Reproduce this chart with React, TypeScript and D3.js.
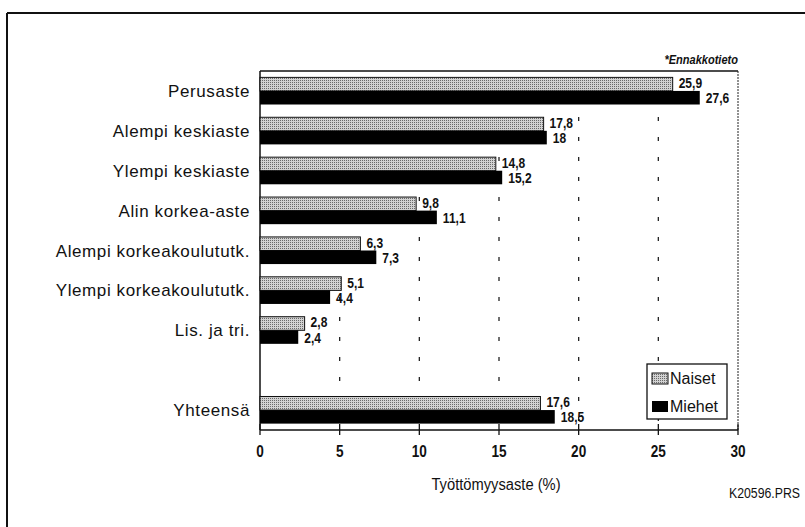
import React from "react";
import * as d3 from "d3";

const categories = [
  "Perusaste",
  "Alempi keskiaste",
  "Ylempi keskiaste",
  "Alin korkea-aste",
  "Alempi korkeakoulututk.",
  "Ylempi korkeakoulututk.",
  "Lis. ja tri.",
  "Yhteensä",
];
const naiset = [25.9, 17.8, 14.8, 9.8, 6.3, 5.1, 2.8, 17.6];
const miehet = [27.6, 18, 15.2, 11.1, 7.3, 4.4, 2.4, 18.5];
const xTicks = [0, 5, 10, 15, 20, 25, 30];
const seriesNames = ["Naiset", "Miehet"];

const W = 805;
const H = 527;
const left = 260;
const right = 738;
const top = 71;
const bottom = 430;

const font = "'Liberation Sans', Arial, sans-serif";

const fmt = (v: number) => String(v).replace(".", ",");

function NText(props: {
  x: number;
  y: number;
  sx?: number;
  anchor?: "start" | "middle" | "end";
  size: number;
  weight?: string;
  italic?: boolean;
  children: React.ReactNode;
}) {
  const { x, y, sx = 0.82, anchor = "start", size, weight = "normal", italic = false, children } = props;
  return (
    <text
      transform={`translate(${x},${y}) scale(${sx},1)`}
      textAnchor={anchor}
      fontFamily={font}
      fontSize={size}
      fontWeight={weight}
      fontStyle={italic ? "italic" : "normal"}
      fill="#111"
    >
      {children}
    </text>
  );
}

export default function App() {
  const domain = [...categories.slice(0, 7), "__gap__", categories[7]];
  const x = d3.scaleLinear().domain([0, 30]).range([left, right]);
  const y = d3
    .scaleBand<string>()
    .domain(domain)
    .range([top, bottom])
    .paddingInner(0.32)
    .paddingOuter(0.16);
  const bw = y.bandwidth();
  const half = bw / 2;

  return (
    <div style={{ position: "absolute", left: 0, top: 0 }}>
      <svg width={W} height={H} style={{ display: "block", background: "#fff" }}>
        <defs>
          <pattern id="stipple" width={2} height={2} patternUnits="userSpaceOnUse">
            <rect width={2} height={2} fill="#d2d2d2" />
            <rect width={1} height={1} fill="#6a6a6a" />
          </pattern>
        </defs>

        {/* outer frame */}
        <line x1={7} x2={W} y1={13} y2={13} stroke="#111" strokeWidth={2} />
        <line x1={7} x2={7} y1={13} y2={H} stroke="#111" strokeWidth={2} />

        {/* note */}
        <NText x={right} y={64} anchor="end" size={13} weight="bold" italic sx={0.85}>
          *Ennakkotieto
        </NText>

        {/* gridlines */}
        {xTicks.slice(1, -1).map((t) => (
          <line
            key={"g" + t}
            x1={x(t)}
            x2={x(t)}
            y1={top + 6}
            y2={bottom}
            stroke="#222"
            strokeWidth={1.3}
            strokeDasharray="4,16"
          />
        ))}

        {/* plot border */}
        <line x1={left} x2={right} y1={top} y2={top} stroke="#111" strokeWidth={1.5} />
        <line x1={right} x2={right} y1={top} y2={bottom} stroke="#222" strokeWidth={1} strokeDasharray="2,1" />
        <line x1={left} x2={left} y1={top} y2={bottom} stroke="#111" strokeWidth={1.5} />

        {/* bars */}
        {categories.map((c, i) => {
          const y0 = y(c) as number;
          return (
            <g key={c}>
              <rect
                x={x(0)}
                y={y0}
                width={x(naiset[i]) - x(0)}
                height={half}
                fill="url(#stipple)"
                stroke="#111"
                strokeWidth={1}
              />
              <rect
                x={x(0)}
                y={y0 + half}
                width={x(miehet[i]) - x(0)}
                height={half}
                fill="#000"
              />
              <NText x={x(naiset[i]) + 6} y={y0 + half / 2 + 4} size={14} weight="bold" sx={0.86}>
                {fmt(naiset[i])}
              </NText>
              <NText x={x(miehet[i]) + 6} y={y0 + half + half / 2 + 5.5} size={14} weight="bold" sx={0.86}>
                {fmt(miehet[i])}
              </NText>
              <text
                x={250}
                y={y0 + half + 6}
                textAnchor="end"
                fontFamily={font}
                fontSize={17}
                letterSpacing={0.6}
                fill="#111"
              >
                {c}
              </text>
            </g>
          );
        })}

        {/* x axis */}
        <line x1={left} x2={right} y1={bottom} y2={bottom} stroke="#111" strokeWidth={1.5} />
        {xTicks.map((t) => (
          <g key={"t" + t}>
            <line x1={x(t)} x2={x(t)} y1={bottom - 6} y2={bottom + 5} stroke="#111" strokeWidth={1.3} />
            <NText x={x(t)} y={457} anchor="middle" size={17} weight="bold" sx={0.8}>
              {t}
            </NText>
          </g>
        ))}
        <NText x={(left + right) / 2 - 3} y={490} anchor="middle" size={16} sx={0.92}>
          Työttömyysaste (%)
        </NText>
        <NText x={800} y={498} anchor="end" size={15} sx={0.82}>
          K20596.PRS
        </NText>

        {/* legend */}
        <rect x={647} y={364} width={80} height={55} fill="#fff" stroke="#111" strokeWidth={1.3} />
        {seriesNames.map((s, i) => (
          <g key={s}>
            <rect
              x={652}
              y={373 + i * 28}
              width={16}
              height={11}
              fill={i === 0 ? "url(#stipple)" : "#000"}
              stroke="#111"
              strokeWidth={i === 0 ? 1 : 0}
            />
            <text x={670} y={384 + i * 28} fontFamily={font} fontSize={16} fill="#111">
              {s}
            </text>
          </g>
        ))}
      </svg>
    </div>
  );
}
